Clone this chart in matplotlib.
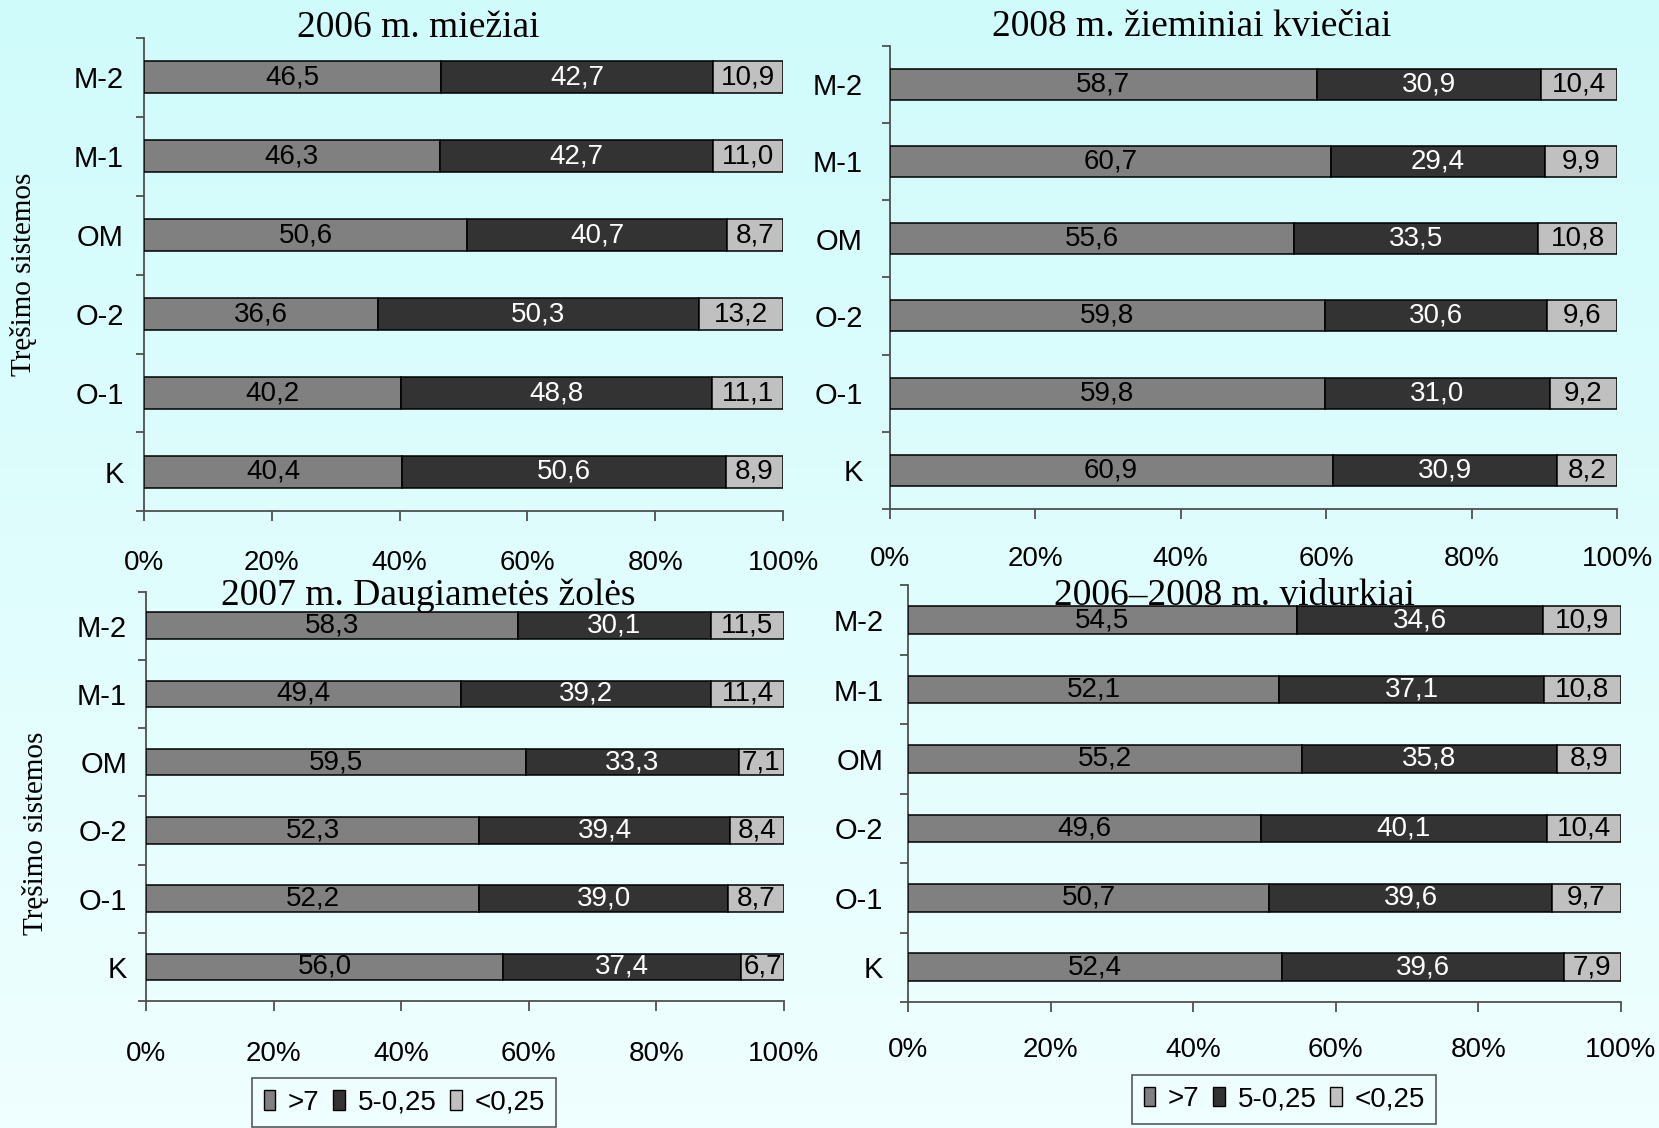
import numpy as np
import matplotlib
matplotlib.use("Agg")
import matplotlib.pyplot as plt
from matplotlib.patches import Patch
from matplotlib.ticker import FixedLocator, FuncFormatter

# ---- data ----------------------------------------------------------------
systems = ["M-2", "M-1", "OM", "O-2", "O-1", "K"]
fractions = [">7", "5-0,25", "<0,25"]

barley_2006_coarse = [46.5, 46.3, 50.6, 36.6, 40.2, 40.4]
barley_2006_mid = [42.7, 42.7, 40.7, 50.3, 48.8, 50.6]
barley_2006_fine = [10.9, 11.0, 8.7, 13.2, 11.1, 8.9]

wheat_2008_coarse = [58.7, 60.7, 55.6, 59.8, 59.8, 60.9]
wheat_2008_mid = [30.9, 29.4, 33.5, 30.6, 31.0, 30.9]
wheat_2008_fine = [10.4, 9.9, 10.8, 9.6, 9.2, 8.2]

grass_2007_coarse = [58.3, 49.4, 59.5, 52.3, 52.2, 56.0]
grass_2007_mid = [30.1, 39.2, 33.3, 39.4, 39.0, 37.4]
grass_2007_fine = [11.5, 11.4, 7.1, 8.4, 8.7, 6.7]

mean_coarse = [54.5, 52.1, 55.2, 49.6, 50.7, 52.4]
mean_mid = [34.6, 37.1, 35.8, 40.1, 39.6, 39.6]
mean_fine = [10.9, 10.8, 8.9, 10.4, 9.7, 7.9]

titles = ["2006 m. miežiai", "2008 m. žieminiai kviečiai",
          "2007 m. Daugiametės žolės", "2006–2008 m. vidurkiai"]
ylabel = "Tręšimo sistemos"
xticks_pct = [0, 20, 40, 60, 80, 100]

# ---- style -----------------------------------------------------------------
SANS = ["Liberation Sans", "DejaVu Sans"]
SERIF = ["Liberation Serif", "DejaVu Serif"]
seg_colors = ["#808080", "#333333", "#C0C0C0"]
txt_colors = ["black", "white", "black"]
spine_col = "#505050"

W, H = 1659, 1128
fig = plt.figure(figsize=(W / 100, H / 100), dpi=100)

# light cyan background, slightly deeper at the top
bg = fig.add_axes([0, 0, 1, 1], zorder=-10)
top = np.array([0.815, 0.985, 0.985])
bot = np.array([0.94, 1.0, 1.0])
t = np.linspace(0, 1, 256)[:, None]
grad = top[None, None, :] * (1 - t[..., None]) + bot[None, None, :] * t[..., None]
grad = np.repeat(grad, 2, axis=1)
bg.imshow(grad, aspect="auto", extent=[0, 1, 0, 1], origin="upper")
bg.set_axis_off()


def px_rect(left, top_, right, bottom):
    return [left / W, 1 - bottom / H, (right - left) / W, (bottom - top_) / H]


panels = [
    dict(rect=px_rect(144, 37.8, 783, 511.4), data=(barley_2006_coarse, barley_2006_mid, barley_2006_fine),
         title=titles[0], tpos=(418, 37), ypad=14.5, xpad=20.5, bh=0.4),
    dict(rect=px_rect(889.6, 45.5, 1617, 509), data=(wheat_2008_coarse, wheat_2008_mid, wheat_2008_fine),
         title=titles[1], tpos=(1192, 36), ypad=19.3, xpad=20, bh=0.4),
    dict(rect=px_rect(146.1, 591.5, 784, 1001), data=(grass_2007_coarse, grass_2007_mid, grass_2007_fine),
         title=titles[2], tpos=(428.5, 605), ypad=13.7, xpad=21.5, bh=0.39),
    dict(rect=px_rect(908.3, 585.4, 1620.6, 1002), data=(mean_coarse, mean_mid, mean_fine),
         title=titles[3], tpos=(1234, 605), ypad=18, xpad=18.5, bh=0.4),
]

ypos = np.arange(len(systems))[::-1]  # M-2 on top, K at the bottom
axes = []
for p in panels:
    ax = fig.add_axes(p["rect"])
    ax.set_facecolor("none")
    vals = np.array(p["data"], dtype=float)  # shape (3, n)
    totals = vals.sum(axis=0)
    shares = vals / totals * 100.0
    left = np.zeros(len(systems))
    for k in range(3):
        ax.barh(ypos, shares[k], left=left, height=p["bh"], color=seg_colors[k],
                edgecolor="black", linewidth=1.1, label=fractions[k], zorder=3)
        for y, l, w, v in zip(ypos, left, shares[k], vals[k]):
            ax.text(l + w / 2, y, f"{v:.1f}".replace(".", ","), ha="center", va="center",
                    color=txt_colors[k], fontsize=20, family=SANS, zorder=4)
        left = left + shares[k]

    ax.set_xlim(0, 100)
    ax.set_ylim(-0.5, len(systems) - 0.5)
    for s in ("top", "right"):
        ax.spines[s].set_visible(False)
    for s in ("left", "bottom"):
        ax.spines[s].set_color(spine_col)
        ax.spines[s].set_linewidth(1.3)

    ax.set_yticks(ypos)
    ax.set_yticklabels(systems, fontsize=21, family=SANS)
    ax.yaxis.set_minor_locator(FixedLocator(np.arange(-0.5, len(systems), 1.0)))
    ax.tick_params(axis="y", which="major", length=0, pad=p["ypad"])
    ax.tick_params(axis="y", which="minor", length=6, width=1.3, color=spine_col, direction="out")

    ax.set_xticks(xticks_pct)
    ax.xaxis.set_major_formatter(FuncFormatter(lambda v, _: f"{v:.0f}%"))
    ax.tick_params(axis="x", which="major", length=7, width=1.3, color=spine_col,
                   direction="out", pad=p["xpad"], labelsize=20)
    for lab in ax.get_xticklabels():
        lab.set_family(SANS)

    fig.text(p["tpos"][0] / W, 1 - p["tpos"][1] / H, p["title"], ha="center", va="baseline",
             fontsize=27, family=SERIF)
    axes.append(ax)

# shared y-axis captions
fig.text(24 / W, 1 - 274 / H, ylabel, rotation=90, ha="center", va="center",
         fontsize=21, family=SERIF)
fig.text(36 / W, 1 - 833 / H, ylabel, rotation=90, ha="center", va="center",
         fontsize=21, family=SERIF)

# legends under the bottom panels
handles = [Patch(facecolor=c, edgecolor="black", linewidth=1.0) for c in seg_colors]
for lx, ly in [(252, 1078), (1132, 1074.5)]:
    leg = fig.legend(handles, fractions, loc="upper left",
                     bbox_to_anchor=(lx / W, 1 - ly / H), bbox_transform=fig.transFigure,
                     ncol=3, frameon=True, fancybox=False, shadow=False,
                     prop=dict(family=SANS, size=20),
                     handlelength=0.42, handleheight=0.7, handletextpad=0.45,
                     columnspacing=0.5, borderpad=0.42, borderaxespad=0)
    leg.get_frame().set_edgecolor("#303030")
    leg.get_frame().set_linewidth(1.2)
    leg.get_frame().set_facecolor("none")

fig.savefig("out.png", dpi=100)
